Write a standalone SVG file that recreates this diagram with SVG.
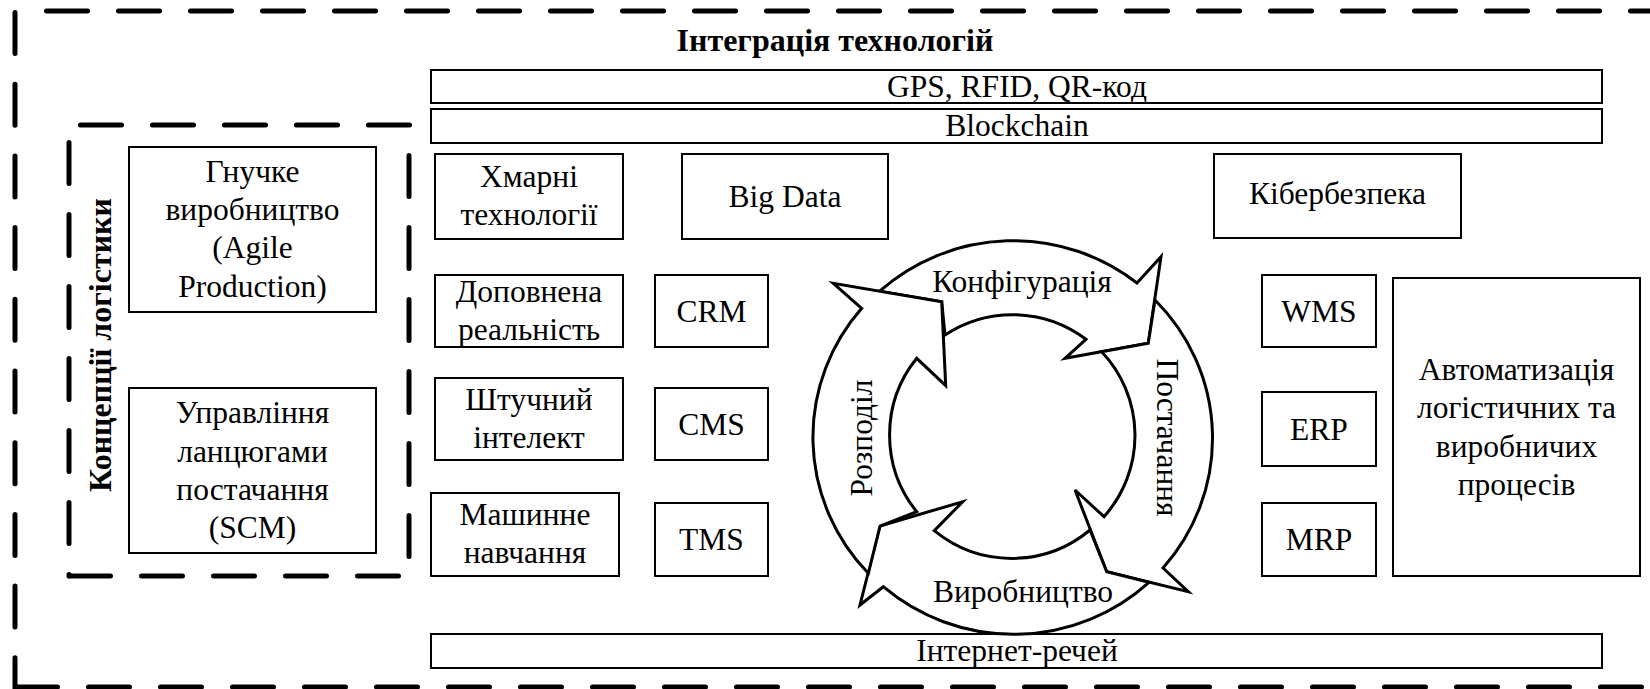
<svg xmlns="http://www.w3.org/2000/svg" width="1650" height="689" viewBox="0 0 1650 689">
<defs>
<style>
.frame{fill:none;stroke:#000;stroke-width:5;stroke-linecap:round;stroke-dasharray:41 31}
.box{fill:#fff;stroke:#000;stroke-width:2}
.arr{fill:#fff;stroke:#000;stroke-width:3;stroke-linejoin:miter}
.t{font-family:"Liberation Serif","Times New Roman",serif;font-size:31.5px;fill:#000;text-anchor:middle}
.b{font-family:"Liberation Serif","Times New Roman",serif;font-size:32px;font-weight:bold;fill:#000;text-anchor:middle}
</style>
</defs>
<rect width="1650" height="689" fill="#fff"/>

<g id="outer-frame">
<line class="frame" x1="46.5" y1="11" x2="1660" y2="11"/>
<line class="frame" x1="15" y1="12.5" x2="15" y2="690" style="stroke-dasharray:41 30.7"/>
<line class="frame" x1="16.5" y1="687" x2="1660" y2="687"/>
<text class="b" x="835" y="51">Інтеграція технологій</text>
</g>

<g id="inner-frame">
<line class="frame" x1="80.5" y1="125" x2="409.5" y2="125"/>
<line class="frame" x1="409" y1="155.5" x2="409" y2="576"/>
<line class="frame" x1="69.5" y1="576" x2="409" y2="576"/>
<line class="frame" x1="69" y1="142.5" x2="69" y2="576"/>
<text class="b" transform="translate(111,345) rotate(-90)">Концепції логістики</text>
</g>

<g id="gps"><rect class="box" x="431" y="70" width="1171" height="33"/><text class="t" x="1017" y="97">GPS, RFID, QR-код</text></g>
<g id="blockchain"><rect class="box" x="431" y="109" width="1171" height="34"/><text class="t" x="1017" y="136">Blockchain</text></g>
<g id="cloud"><rect class="box" x="435" y="154" width="188" height="85"/><text class="t" x="529" y="186.7">Хмарні</text><text class="t" x="529" y="225">технології</text></g>
<g id="bigdata"><rect class="box" x="682" y="154" width="206" height="85"/><text class="t" x="785" y="206.7">Big Data</text></g>
<g id="cyber"><rect class="box" x="1214" y="154" width="247" height="84"/><text class="t" x="1337.5" y="204">Кібербезпека</text></g>
<g id="agile"><rect class="box" x="129" y="147" width="247" height="165"/><text class="t" x="252.5" y="181.7">Гнучке</text><text class="t" x="252.5" y="220">виробництво</text><text class="t" x="252.5" y="258.3">(Agile</text><text class="t" x="252.5" y="296.7">Production)</text></g>
<g id="scm"><rect class="box" x="129" y="388" width="247" height="165"/><text class="t" x="252.5" y="423.3">Управління</text><text class="t" x="252.5" y="461.7">ланцюгами</text><text class="t" x="252.5" y="500">постачання</text><text class="t" x="252.5" y="538.3">(SCM)</text></g>
<g id="ar"><rect class="box" x="435" y="275" width="188" height="72"/><text class="t" x="529" y="301.7">Доповнена</text><text class="t" x="529" y="340">реальність</text></g>
<g id="crm"><rect class="box" x="655" y="275" width="113" height="72"/><text class="t" x="711.5" y="321.5">CRM</text></g>
<g id="ai"><rect class="box" x="435" y="378" width="188" height="82"/><text class="t" x="529" y="410">Штучний</text><text class="t" x="529" y="448.3">інтелект</text></g>
<g id="cms"><rect class="box" x="655" y="388" width="113" height="72"/><text class="t" x="711.5" y="435">CMS</text></g>
<g id="ml"><rect class="box" x="431" y="493" width="188" height="83"/><text class="t" x="525" y="525">Машинне</text><text class="t" x="525" y="563.3">навчання</text></g>
<g id="tms"><rect class="box" x="655" y="503" width="113" height="73"/><text class="t" x="711.5" y="550">TMS</text></g>
<g id="wms"><rect class="box" x="1262" y="275" width="114" height="72"/><text class="t" x="1319" y="321.5">WMS</text></g>
<g id="erp"><rect class="box" x="1262" y="392" width="114" height="74"/><text class="t" x="1319" y="440">ERP</text></g>
<g id="mrp"><rect class="box" x="1262" y="503" width="114" height="73"/><text class="t" x="1319" y="550">MRP</text></g>
<g id="automation"><rect class="box" x="1393" y="278" width="247" height="298"/><text class="t" x="1516.5" y="380">Автоматизація</text><text class="t" x="1516.5" y="418.3">логістичних та</text><text class="t" x="1516.5" y="456.7">виробничих</text><text class="t" x="1516.5" y="495">процесів</text></g>
<g id="iot"><rect class="box" x="431" y="634" width="1171" height="34"/><text class="t" x="1017" y="661">Інтернет-речей</text></g>

<g id="connectors">
<g id="configuration">
<path class="arr" d="M879.6,291.2 A200,197 0 0 1 1137,283 L1161,256.7 L1148.3,343.3 L1065,358.3 L1086,339.3 A122,122 0 0 0 945,335 L941.7,301.7 Z"/>
<text class="t" x="1022" y="291.7">Конфігурація</text>
</g>
<g id="supply">
<path class="arr" d="M1155,300 A200,197 0 0 1 1163,568 L1188.3,591.7 L1106.7,571.7 L1075,490 L1104,516.7 A122,122 0 0 0 1101.7,351.7 L1148.3,343.3 Z"/>
<text class="t" transform="translate(1157,437.5) rotate(90)">Постачання</text>
</g>
<g id="production">
<path class="arr" d="M1149,582.3 A200,197 0 0 1 883.3,586.7 L860,605 L880,526 L962.7,501.7 L934.3,530.7 A122,122 0 0 0 1090,530 L1106.7,571.7 Z"/>
<text class="t" x="1023" y="601.7">Виробництво</text>
</g>
<g id="distribution">
<path class="arr" d="M868.3,573.3 A200,197 0 0 1 861.7,308.3 L833.3,283.3 L941.7,301.7 L945.7,385.7 L916.7,358.3 A122,122 0 0 0 916.7,511.7 L880,526 Z"/>
<text class="t" transform="translate(872,438) rotate(-90)">Розподіл</text>
</g>
</g>
</svg>
